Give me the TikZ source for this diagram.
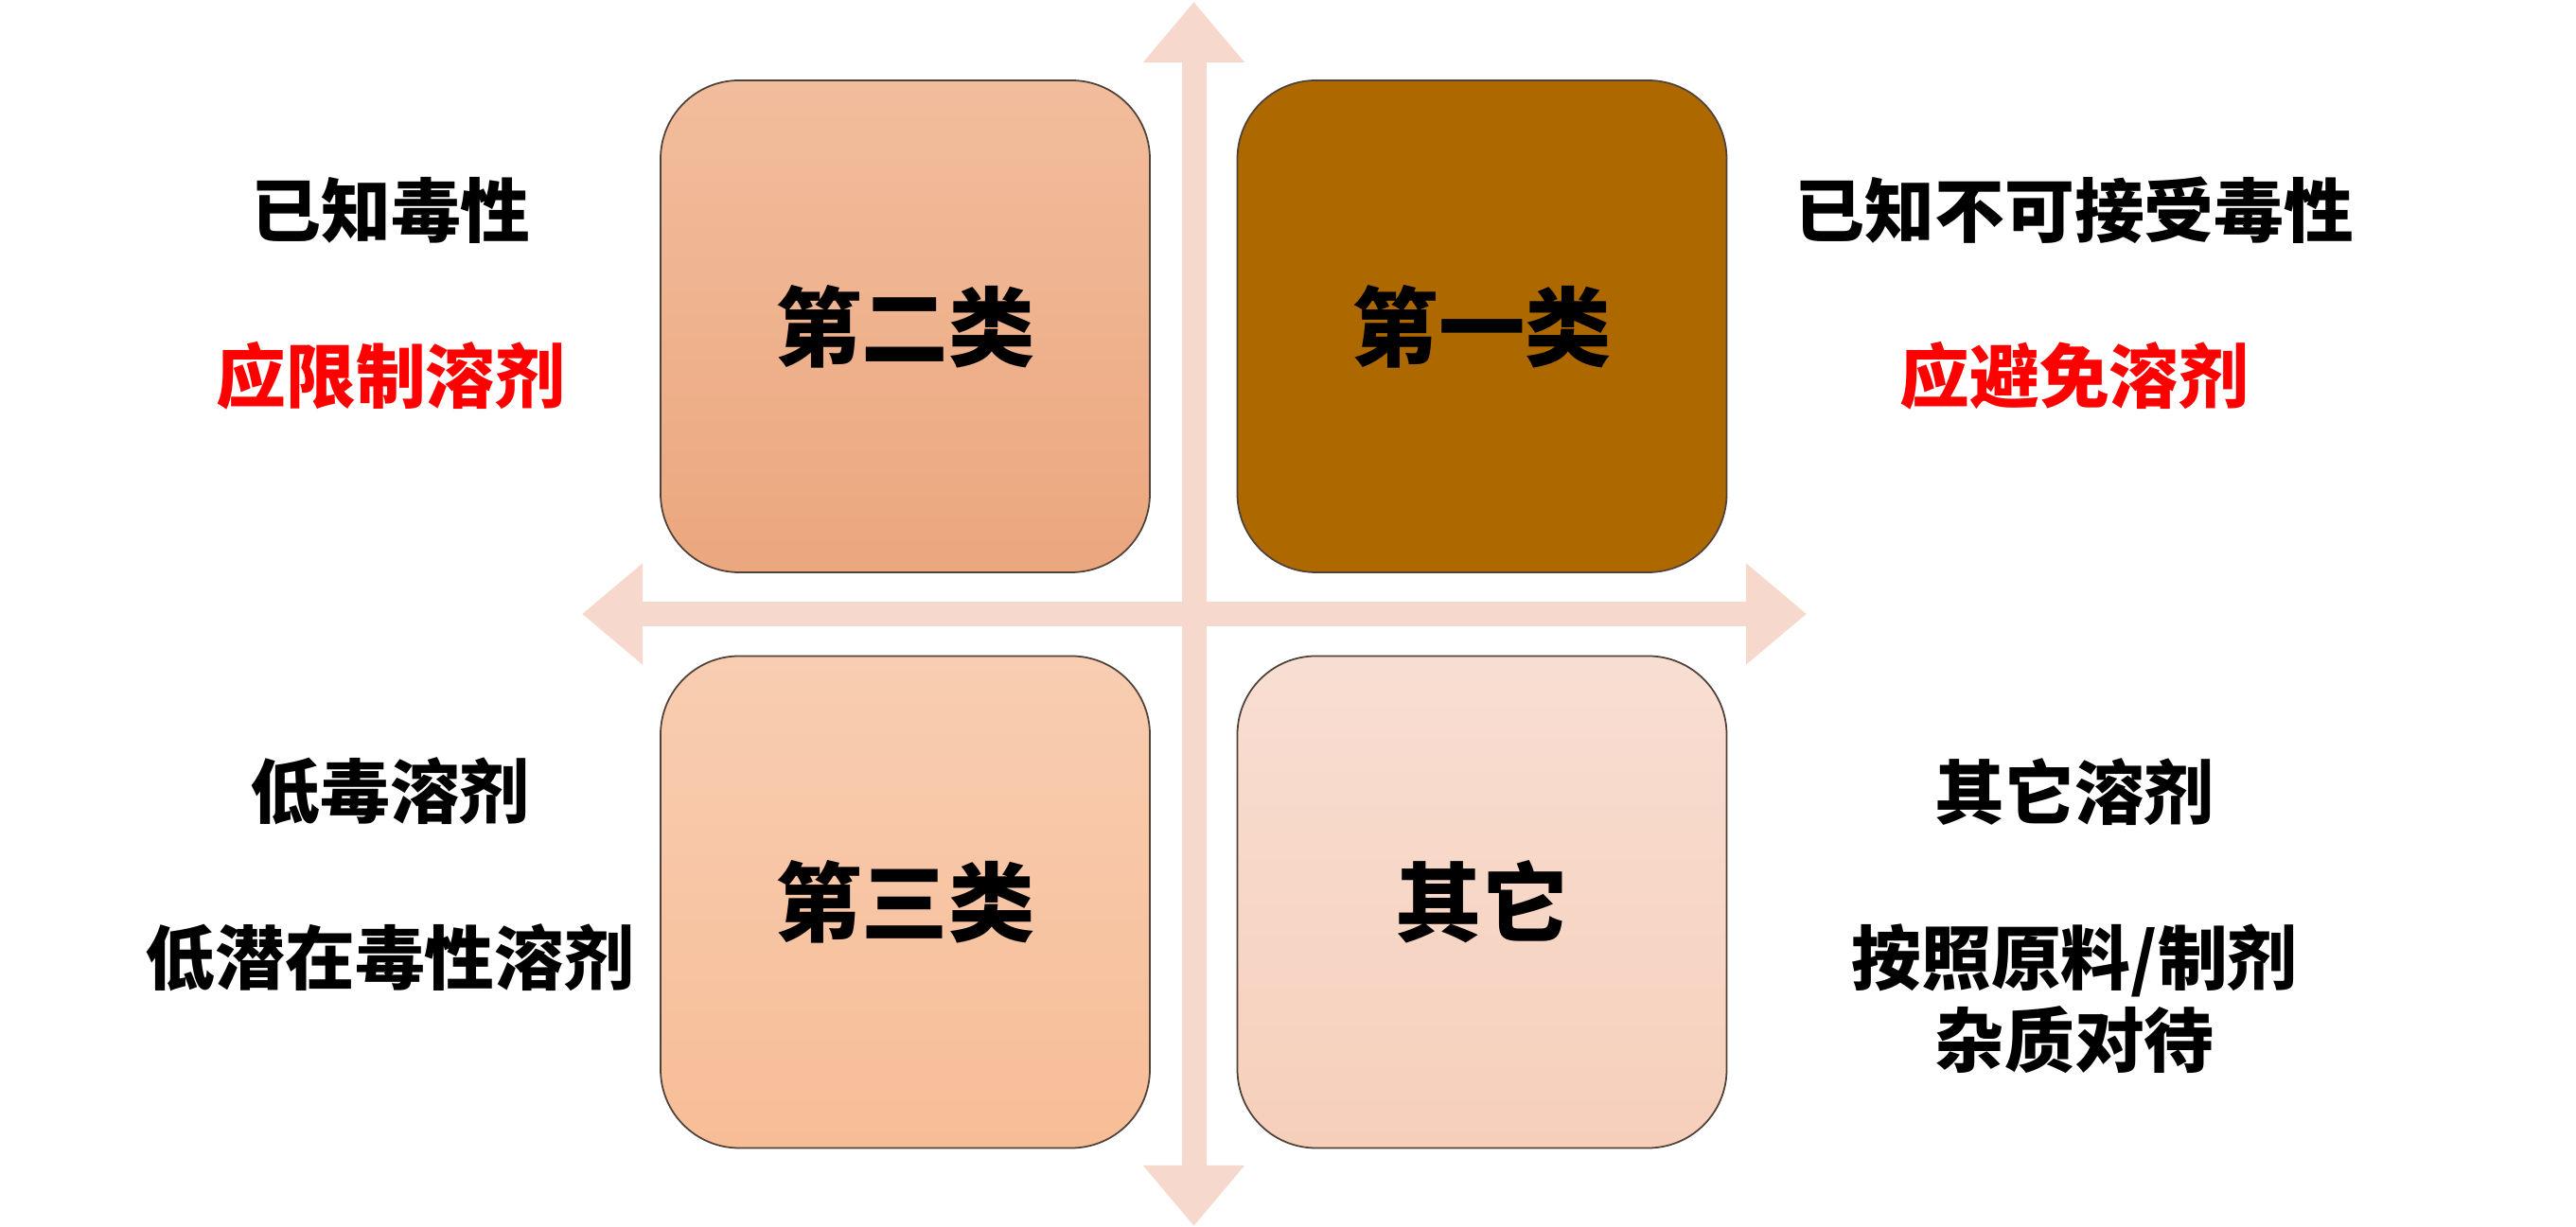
\documentclass[tikz,border=0pt]{standalone}
\usepackage{fontspec}
\newfontfamily\cjk{Noto Sans CJK SC}
\usetikzlibrary{arrows.meta}
\definecolor{axiscol}{HTML}{F6D9CC}
\definecolor{twotop}{HTML}{F2BD9D}
\definecolor{twobot}{HTML}{EBA77E}
\definecolor{onefill}{HTML}{AE6800}
\definecolor{threetop}{HTML}{F8CDB1}
\definecolor{threebot}{HTML}{F7BD97}
\definecolor{othertop}{HTML}{F8DED2}
\definecolor{otherbot}{HTML}{F6CFBB}
\definecolor{edgecol}{HTML}{4F4238}

\begin{document}
\begin{tikzpicture}[
        quad/.style={draw=edgecol, line width=0.5pt, rounded corners=0.83cm,
                     minimum width=5.17cm, minimum height=5.2cm,
                     font=\cjk\bfseries\fontsize{26pt}{30pt}\selectfont},
        side/.style={font=\cjk\bfseries\fontsize{21pt}{24.7pt}\selectfont, align=center},
        axis/.style={draw=axiscol, line width=0.26cm,
                     {Triangle[width=1.03cm,length=0.64cm]}-{Triangle[width=1.03cm,length=0.64cm]}}
    ]
                \useasboundingbox (0,0) rectangle (27.22,12.97);
                \coordinate (west) at (6.15,6.48);
                \coordinate (east) at (19.09,6.48);
                \coordinate (north) at (12.615,12.95);
                \coordinate (south) at (12.615,0.01);
                \draw [axis] (west) -- (east);
                \draw [axis] (south) -- (north);

                \node (two) [quad, top color=twotop, bottom color=twobot] at (9.565,9.52) {第二类};
                \node (one) [quad, fill=onefill] at (15.66,9.52) {第一类};
                \node (three) [quad, top color=threetop, bottom color=threebot] at (9.565,3.435) {第三类};
                \node (other) [quad, top color=othertop, bottom color=otherbot] at (15.66,3.435) {其它};

                \node (twotox) [side] at (4.13,10.75) {已知毒性};
                \node (twouse) [side, text=red] at (4.13,9.00) {应限制溶剂};
                \node (onetox) [side] at (21.92,10.75) {已知不可接受毒性};
                \node (oneuse) [side, text=red] at (21.92,9.00) {应避免溶剂};
                \node (threetox) [side] at (4.12,4.61) {低毒溶剂};
                \node (threeuse) [side] at (4.12,2.85) {低潜在毒性溶剂};
                \node (othertox) [side] at (21.92,4.60) {其它溶剂};
                \node (otheruse) [side] at (21.92,2.415) {按照原料/制剂\\杂质对待};
\end{tikzpicture}
\end{document}
